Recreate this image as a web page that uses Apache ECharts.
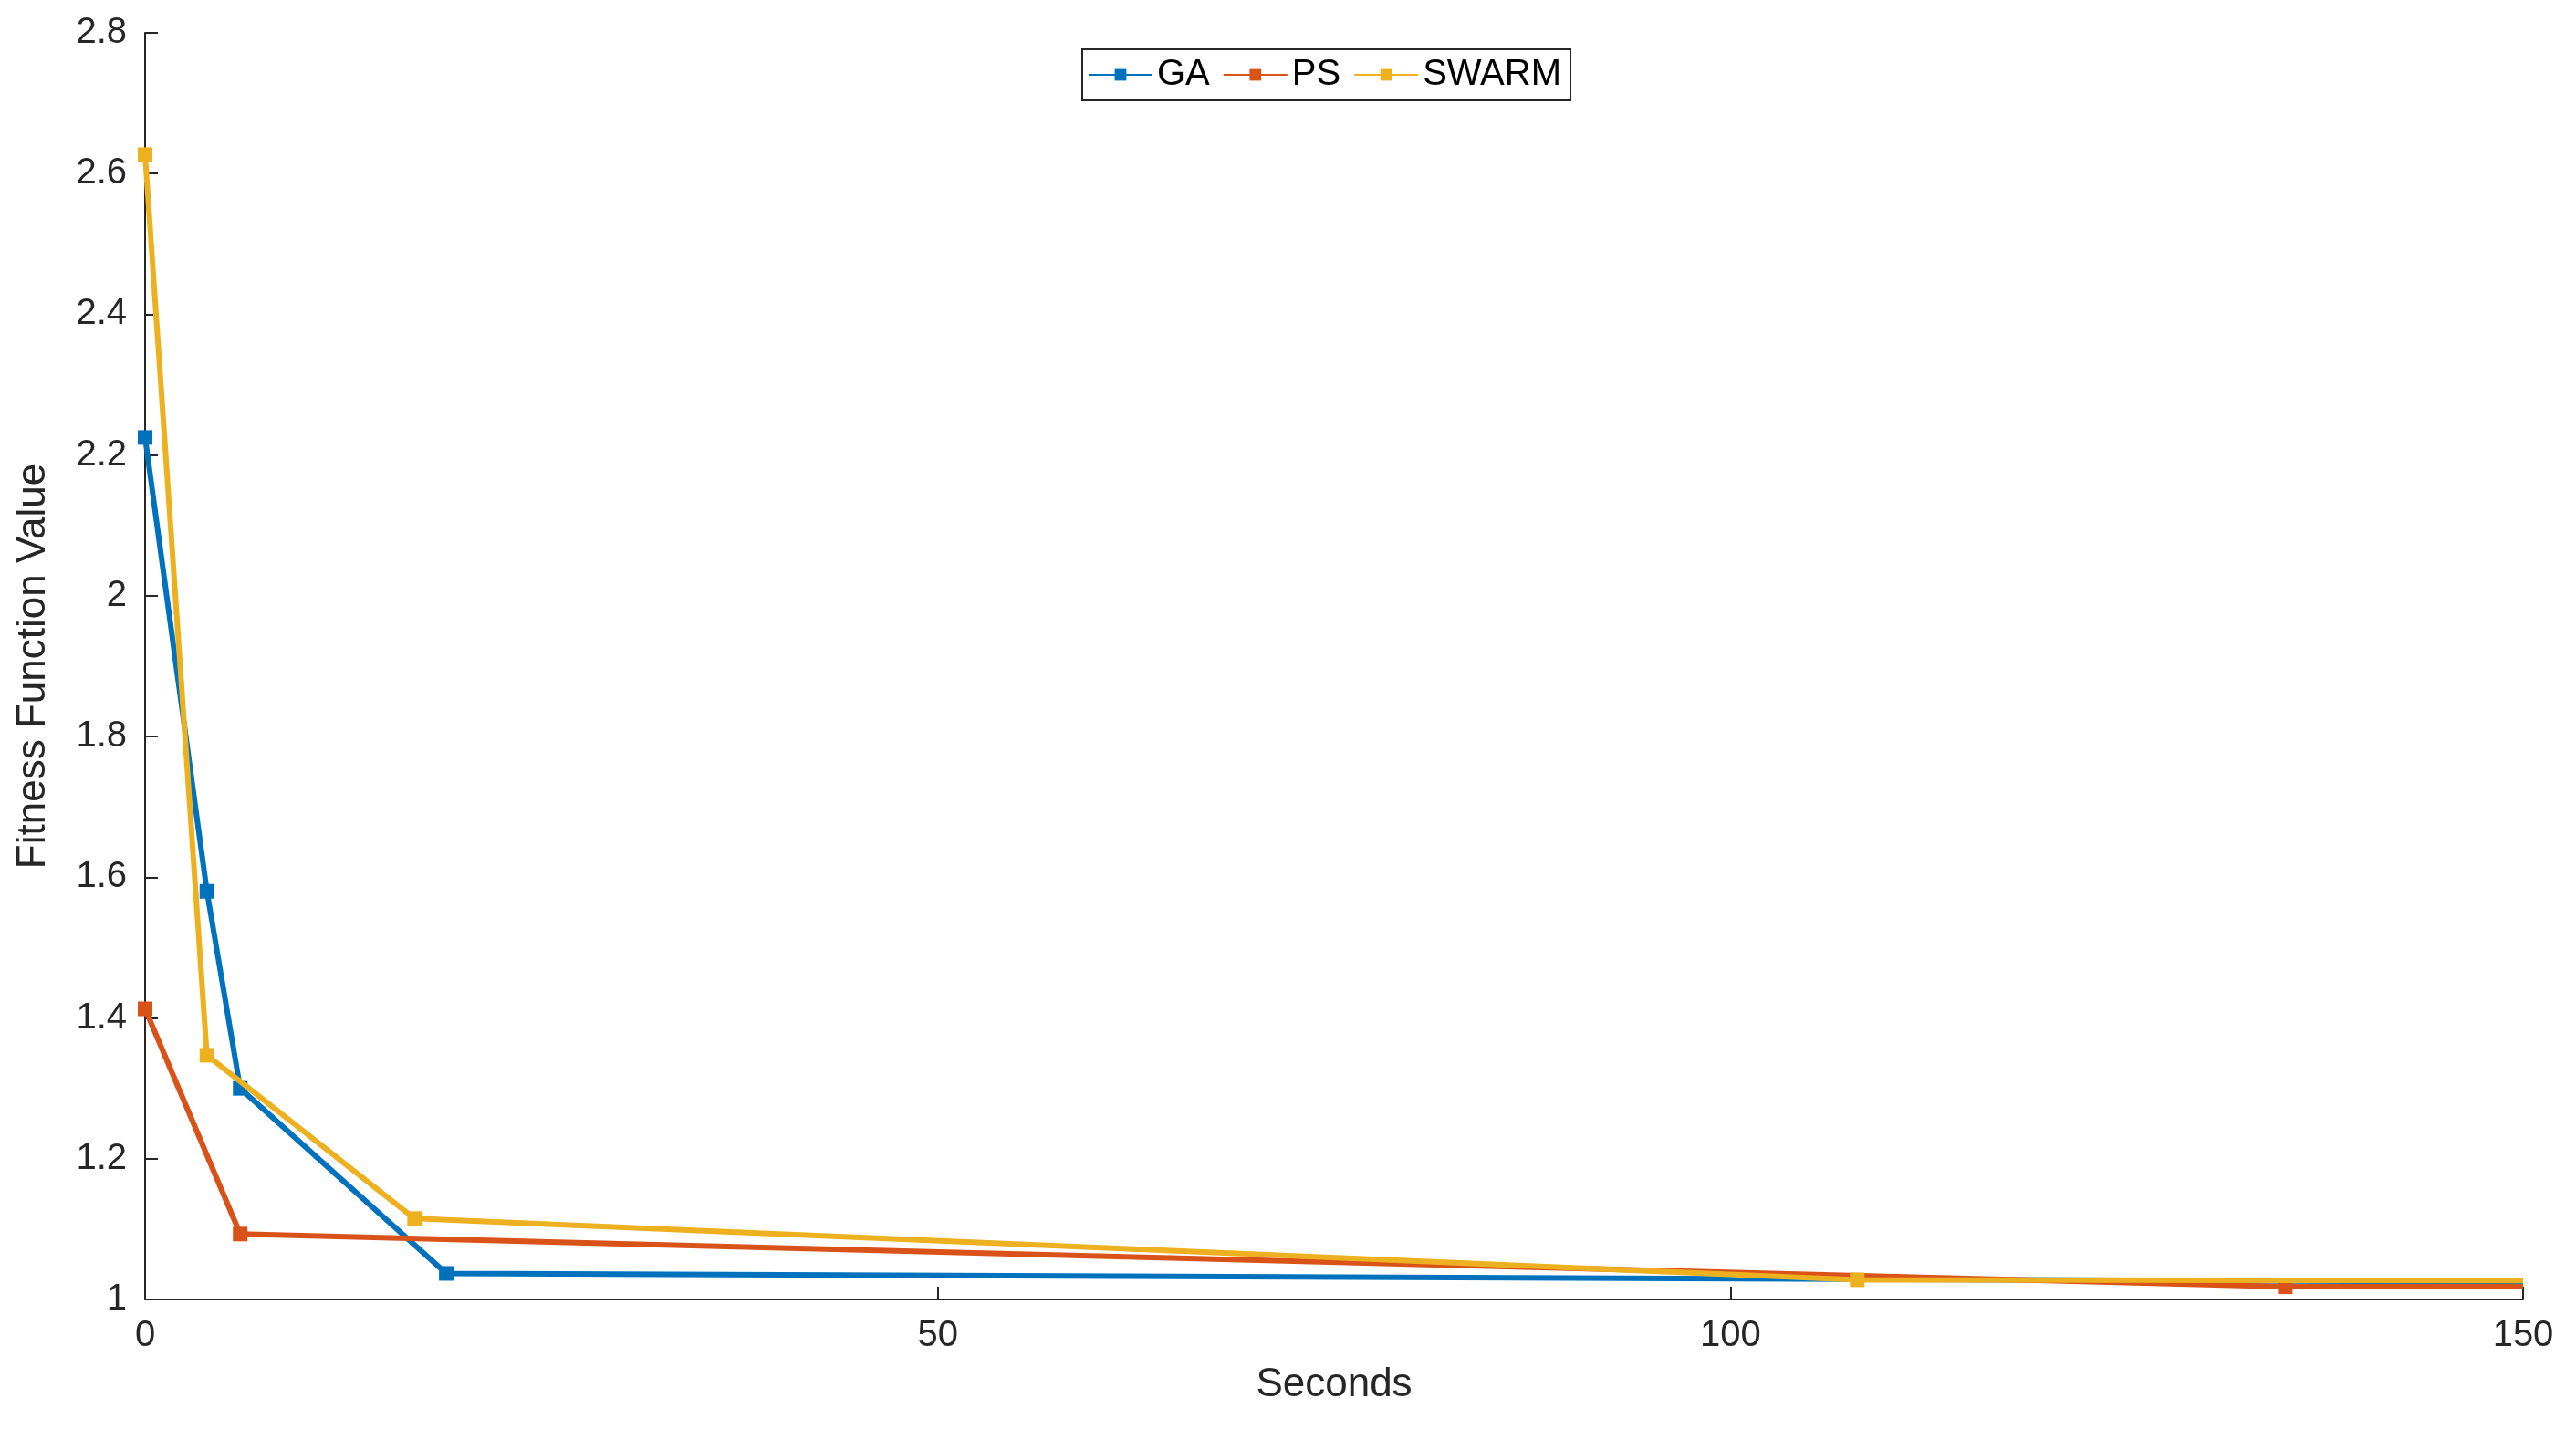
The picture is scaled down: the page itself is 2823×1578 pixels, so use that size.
<!DOCTYPE html><html><head><meta charset="utf-8"><script src="https://cdn.jsdelivr.net/npm/echarts@6/dist/echarts.min.js"></script>
<style>html,body{margin:0;background:#fff}#c{width:2823px;height:1578px}</style></head><body><div id="c"></div><script>
const gaX=[0,3.9,6,19,150], gaY=[2.225,1.58,1.30,1.037,1.025];
const psX=[0,6,135,150], psY=[1.413,1.093,1.018,1.018];
const swX=[0,3.9,17,108,150], swY=[2.627,1.347,1.115,1.028,1.027];
const xTicks=[0,50,100,150];
const yTicks=[1,1.2,1.4,1.6,1.8,2,2.2,2.4,2.6,2.8];
const pairs=(xs,ys,lastNoSym)=>xs.map((x,i)=>(lastNoSym&&i===xs.length-1)?{value:[x,ys[i]],symbol:'none'}:[x,ys[i]]);
const ax={axisLine:{show:true,lineStyle:{color:'#262626',width:2}},axisTick:{inside:true,length:14,lineStyle:{color:'#262626',width:2}},axisLabel:{color:'#262626',fontSize:40,fontFamily:'Liberation Sans'},splitLine:{show:false}};
const mk=(name,color,data)=>({name,type:'line',data,color,symbol:'rect',symbolSize:16,lineStyle:{width:6,color},itemStyle:{color},z:name==='SWARM'?3:2});
echarts.init(document.getElementById('c')).setOption({
animation:false,
grid:{left:159,right:58,top:36,bottom:154},
legend:{top:54,left:1186,itemWidth:70,itemHeight:16,itemGap:14,padding:[8,10,8,6],borderColor:'#262626',borderWidth:2,textStyle:{fontSize:40,color:'#000',fontFamily:'Liberation Sans'},data:['GA','PS','SWARM']},
xAxis:Object.assign({type:'value',min:0,max:150,interval:50,name:'Seconds',nameLocation:'middle',nameGap:72,nameTextStyle:{fontSize:44,color:'#262626',fontFamily:'Liberation Sans'}},ax,{axisLabel:Object.assign({},ax.axisLabel,{margin:20})}),
yAxis:Object.assign({type:'value',min:1,max:2.8,interval:0.2,name:'Fitness Function Value',nameLocation:'middle',nameGap:100,nameTextStyle:{fontSize:44,color:'#262626',fontFamily:'Liberation Sans'}},ax,{axisLabel:Object.assign({},ax.axisLabel,{margin:20,formatter:v=>String(+v.toFixed(1))})}),
series:[mk('GA','#0072BD',pairs(gaX,gaY,true)),mk('PS','#D95319',pairs(psX,psY,true)),mk('SWARM','#EDB120',pairs(swX,swY,true))]
});
</script></body></html>
